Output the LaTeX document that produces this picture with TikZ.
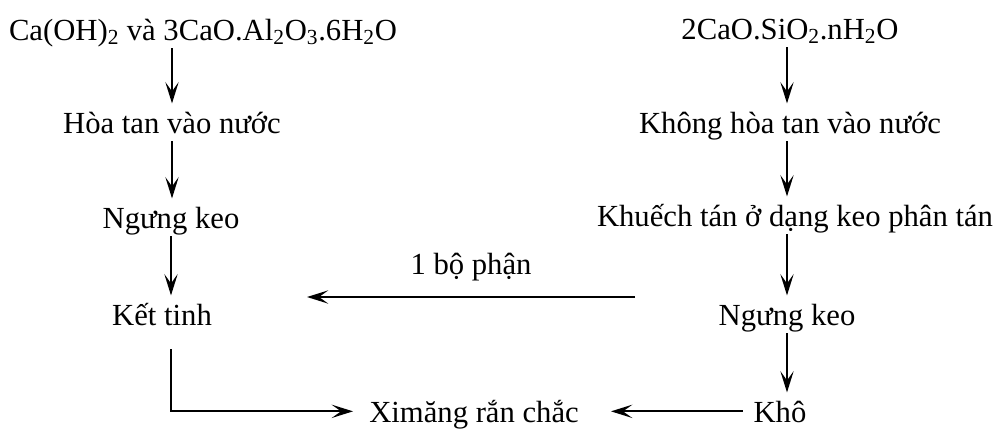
\documentclass[tikz,border=0pt]{standalone}
\usepackage{fontspec}
\setmainfont{Liberation Serif}
\usetikzlibrary{arrows.meta}
\begin{document}
\begin{tikzpicture}[x=0.75pt,y=-0.75pt,
    lbl/.style={font=\fontsize{23}{27}\selectfont, inner sep=1pt, text height=21pt, text depth=5pt, anchor=base},
    arr/.style={-{Stealth[length=16pt,width=10pt,inset=7pt]}, line width=1.3pt}]
  \useasboundingbox (0,0) rectangle (1006,430);

  % left column
  \node[lbl] (ca) at (203,40) {Ca(OH)\textsubscript{2} và 3CaO.Al\textsubscript{2}O\textsubscript{3}.6H\textsubscript{2}O};
  \node[lbl] (hoa) at (172,133) {Hòa tan vào nước};
  \node[lbl] (ng1) at (171,228) {Ngưng keo};
  \node[lbl] (kt) at (162,325) {Kết tinh};

  % right column
  \node[lbl] (si) at (790,39) {2CaO.SiO\textsubscript{2}.nH\textsubscript{2}O};
  \node[lbl] (khong) at (790,133) {Không hòa tan vào nước};
  \node[lbl] (kt2) at (795,226) {Khuếch tán ở dạng keo phân tán};
  \node[lbl] (ng2) at (787,325) {Ngưng keo};
  \node[lbl] (kho) at (780,422) {Khô};

  % bottom
  \node[lbl] (xm) at (474,422) {Ximăng rắn chắc};

  \draw[arr] (ca.south -| hoa.north) -- (hoa.north);
  \draw[arr] (hoa.south) -- (hoa.south |- ng1.north);
  \draw[arr] (ng1.south) -- (ng1.south |- kt.north);
  \draw[arr] (si.south -| ng2.north) -- (khong.north -| ng2.north);
  \draw[arr] (khong.south -| ng2.north) -- (kt2.north -| ng2.north);
  \draw[arr] (kt2.south -| ng2.north) -- (ng2.north);
  \draw[arr] (ng2.south) -- (ng2.south |- kho.north);

  % 1 bo phan
  \coordinate (bp1) at (635,297);
  \coordinate (bp2) at (307,297);
  \draw[arr] (bp1) -- (bp2) node[lbl, midway, above=10pt] (bp) {1 bộ phận};

  \draw[arr, shorten <=12pt, shorten >=11pt] (kt.south -| ng1.south) |- (xm.west);
  \draw[arr, shorten <=7pt, shorten >=23pt] (kho.west) -- (xm.east);
\end{tikzpicture}
\end{document}
